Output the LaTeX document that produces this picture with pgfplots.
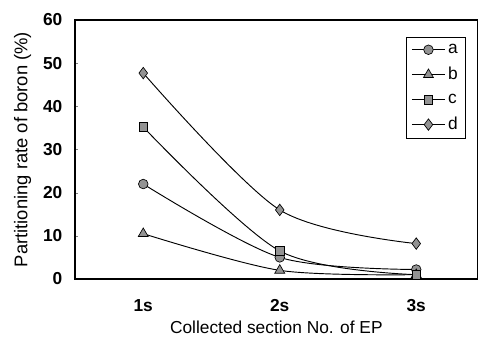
\documentclass[border=0pt]{standalone}
\usepackage{fontspec}
\setmainfont{Liberation Sans}
\usepackage{pgfplots}
\pgfplotsset{compat=1.18}
\usetikzlibrary{calc}
\begin{document}
\begin{tikzpicture}[x=1pt,y=1pt]
\begin{axis}[
  name=main,
  scale only axis,
  width=302pt, height=194.25pt,
  xmin=0.5, xmax=3.45, ymin=0, ymax=60,
  ytick={0,10,...,60},
  ytick pos=left,
  xtick={1,2,3}, xticklabels={1s,2s,3s},
  major x tick style={draw=none},
  extra x ticks={1.5,2.5}, extra x tick labels={},
  extra x tick style={major tick length=3pt, xtick pos=bottom},
  tick align=inside, major tick length=2pt,
  /pgf/number format/assume math mode=true,
  tick label style={font=\fontsize{13}{15}\selectfont\bfseries},
  xlabel style={font=\fontsize{13}{15}\selectfont},
  ylabel style={font=\fontsize{13.8}{15}\selectfont},
  xticklabel style={yshift=-12pt},
  yticklabel style={xshift=-6pt},
  xlabel={Collected section No. of EP},
  ylabel={Partitioning rate of boron (\%)},
  xlabel style={yshift=0pt},
  ylabel style={yshift=2pt},
  axis line style={line width=0.8pt},
  legend style={at={(0.823,0.934)}, anchor=north west, draw=black, line width=0.5pt,
    font=\fontsize{13}{15}\selectfont, row sep=5pt, inner xsep=3.5pt, inner ysep=3pt},
  legend cell align=left,
  legend image code/.code={\draw[black,line width=0.6pt] (0pt,0pt) -- (25pt,0pt); \draw plot coordinates {(12.5pt,0pt)};},
]
\addplot[black, line width=0.7pt, smooth, mark=*, mark size=3.6pt, mark options={fill=gray!85, draw=black, line width=0.5pt}] coordinates {(1,22) (2,5) (3,2.2)};
\addlegendentry{a}
\addplot[black, line width=0.7pt, smooth, mark=triangle*, mark size=4.3pt, mark options={fill=gray!85, draw=black, line width=0.5pt}] coordinates {(1,10.5) (2,2) (3,1)};
\addlegendentry{b}
\addplot[black, line width=0.7pt, smooth, mark=square*, mark size=3.2pt, mark options={fill=gray!85, draw=black, line width=0.5pt}] coordinates {(1,35.2) (2,6.5) (3,1.0)};
\addlegendentry{c}
\addplot[black, line width=0.7pt, smooth, mark=diamond*, mark size=4.3pt, mark options={fill=gray!85, draw=black, line width=0.5pt}] coordinates {(1,47.7) (2,16) (3,8.2)};
\addlegendentry{d}
\end{axis}
\draw[black, line width=0.8pt] (main.south east) -- (main.north east);
\pgfresetboundingbox
\path[use as bounding box] ($(main.south west)+(-56.25pt,-44.25pt)$) rectangle ($(main.north east)+(2.5pt,15pt)$);
\end{tikzpicture}
\end{document}
